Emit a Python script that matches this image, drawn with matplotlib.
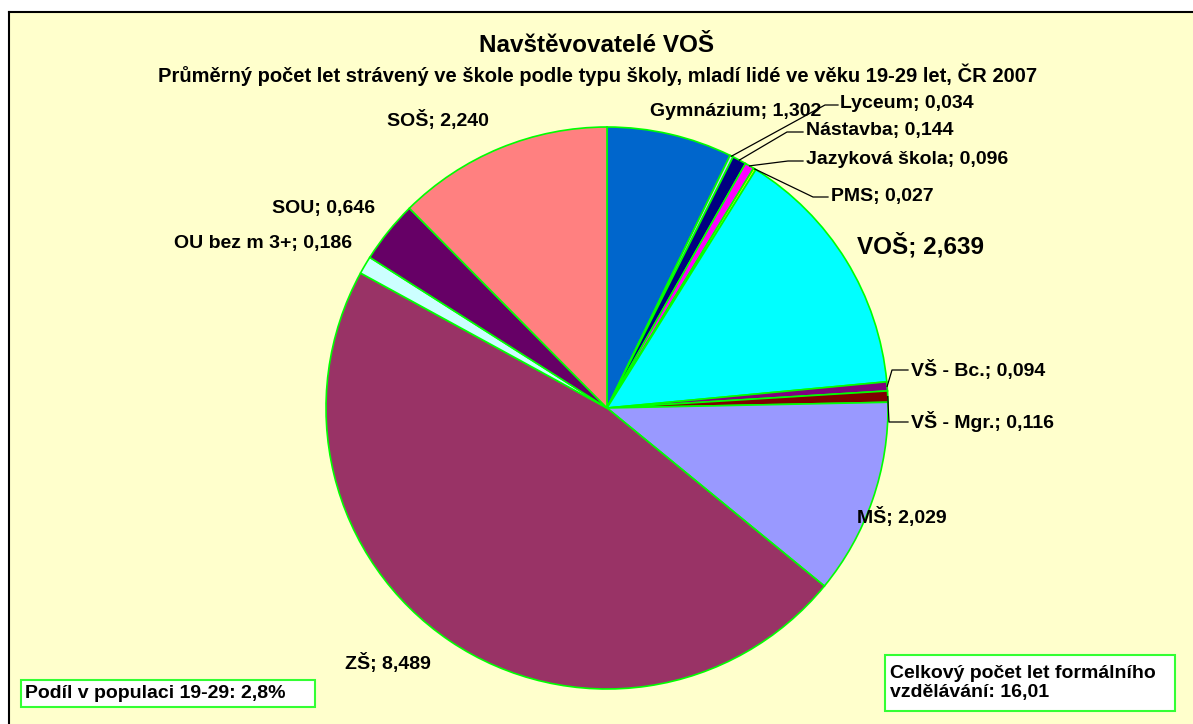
import matplotlib.pyplot as plt
import numpy as np
from matplotlib.lines import Line2D
from matplotlib.patches import Rectangle
from matplotlib.transforms import IdentityTransform

# data, clockwise from 12 o'clock
categories = ['Gymnázium', 'Lyceum', 'Nástavba', 'Jazyková škola', 'PMS', 'VOŠ',
              'VŠ - Bc.', 'VŠ - Mgr.', 'MŠ', 'ZŠ', 'OU bez m 3+', 'SOU', 'SOŠ']
values = [1.302, 0.034, 0.144, 0.096, 0.027, 2.639,
          0.094, 0.116, 2.029, 8.489, 0.186, 0.646, 2.240]
colors = ['#0066CC', '#CCCCFF', '#000080', '#FF00FF', '#FFFF00', '#00FFFF',
          '#800080', '#800000', '#9999FF', '#993366', '#CCFFFF', '#660066', '#FF8080']

title = 'Navštěvovatelé VOŠ'
subtitle = 'Průměrný počet let strávený ve škole podle typu školy, mladí lidé ve věku 19-29 let, ČR 2007'
note_left = 'Podíl v populaci 19-29: 2,8%'
note_right = 'Celkový počet let formálního\nvzdělávání: 16,01'

# label layout in pixels: (x, y, ha, elbow, end of leader)
label_pos = {
    'Gymnázium': (650, 112, 'left', None, None),
    'Lyceum': (840, 104, 'left', (825, 105), (838, 105)),
    'Nástavba': (806, 131, 'left', (787, 132), (803, 132)),
    'Jazyková škola': (806, 160, 'left', (788, 161), (803, 161)),
    'PMS': (831, 197, 'left', (813, 197), (828, 197)),
    'VOŠ': (857, 246, 'left', None, None),
    'VŠ - Bc.': (911, 370, 'left', (892, 370), (908, 370)),
    'VŠ - Mgr.': (911, 422, 'left', (889, 422), (908, 422)),
    'MŠ': (857, 517, 'left', None, None),
    'ZŠ': (345, 663, 'left', None, None),
    'OU bez m 3+': (352, 243, 'right', None, None),
    'SOU': (375, 208, 'right', None, None),
    'SOŠ': (387, 120, 'left', None, None),
}

W, H = 1193, 724
plt.rcParams['font.family'] = ['Liberation Sans', 'DejaVu Sans']
plt.rcParams['font.weight'] = 'bold'

fig = plt.figure(figsize=(W / 100, H / 100), dpi=100)
fig.patch.set_facecolor('white')

def fx(x, y):
    return x / W, 1 - y / H

# chart area
fig.add_artist(Rectangle(fx(9, H), (W - 9) / W, (H - 12) / H, transform=fig.transFigure,
                         facecolor='#FFFFCC', edgecolor='none', zorder=0))
fig.add_artist(Line2D([9 / W, 9 / W], [0, 1 - 12 / H], color='black', lw=1.5, transform=fig.transFigure))
fig.add_artist(Line2D([9 / W, 1], [1 - 12 / H, 1 - 12 / H], color='black', lw=1.5, transform=fig.transFigure))

# pie
cx, cy, r = 607, 408, 281
ax = fig.add_axes([(cx - r) / W, (H - cy - r) / H, 2 * r / W, 2 * r / H])
wedges, _ = ax.pie(values, colors=colors, startangle=90, counterclock=False,
                   wedgeprops=dict(edgecolor='#00FF00', linewidth=1.2))
ax.set_xlim(-1, 1)
ax.set_ylim(-1, 1)
ax.axis('off')
for w in wedges:
    w.set_clip_on(False)

fig.canvas.draw()

for w, name, val in zip(wedges, categories, values):
    x, y, ha, elbow, end = label_pos[name]
    txt = name + '; ' + f'{val:.3f}'.replace('.', ',')
    size = 17.5 if name == 'VOŠ' else 14
    fig.text(x / W, 1 - y / H, txt, ha=ha, va='center', fontsize=size, fontweight='bold')
    if elbow is not None:
        mid = np.deg2rad((w.theta1 + w.theta2) / 2)
        sx, sy = ax.transData.transform((np.cos(mid), np.sin(mid)))
        xs = [sx, elbow[0], end[0]]
        ys = [sy, H - elbow[1], H - end[1]]
        fig.add_artist(Line2D(xs, ys, color='black', lw=0.9, transform=IdentityTransform()))

# titles
fig.text(597 / W, 1 - 46 / H, title, ha='center', va='center', fontsize=17.5, fontweight='bold')
fig.text(598 / W, 1 - 75 / H, subtitle, ha='center', va='center', fontsize=14.5, fontweight='bold')

# note boxes
fig.add_artist(Rectangle(fx(21, 707), 294 / W, 27 / H, transform=fig.transFigure,
                         facecolor='white', edgecolor='#33FF33', lw=1.5))
fig.text(25 / W, 1 - 693 / H, note_left, ha='left', va='center', fontsize=14, fontweight='bold')
fig.add_artist(Rectangle(fx(885, 711), 290 / W, 56 / H, transform=fig.transFigure,
                         facecolor='white', edgecolor='#33FF33', lw=1.5))
fig.text(890 / W, 1 - 683 / H, note_right, ha='left', va='center', fontsize=14,
         fontweight='bold', linespacing=1.2)

fig.savefig('out.png', dpi=100)
